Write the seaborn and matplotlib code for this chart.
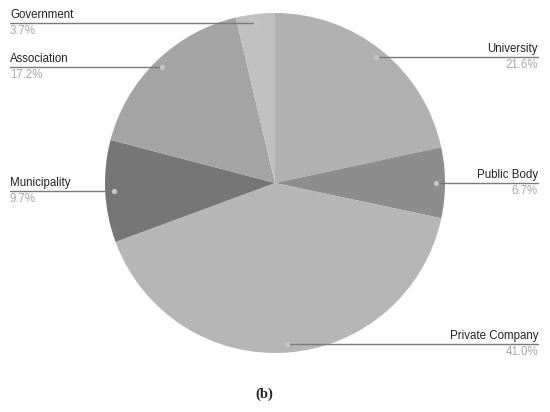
import numpy as np
import matplotlib.pyplot as plt
import seaborn as sns

sns.set_theme(style="white")
plt.rcParams['font.family'] = ['Liberation Sans', 'DejaVu Sans']

# Share of organisations by type (clockwise from 12 o'clock)
categories = ["University", "Public Body", "Private Company",
              "Municipality", "Association", "Government"]
shares = [21.6, 6.7, 41.0, 9.7, 17.2, 3.7]
pct_labels = ["21.6%", "6.7%", "41.0%", "9.7%", "17.2%", "3.7%"]
colors = ["#b1b1b1", "#8d8d8d", "#b6b6b6", "#767676", "#a4a4a4", "#c0c0c0"]

W, H = 550, 412
fig = plt.figure(figsize=(W / 100, H / 100), dpi=100)
ax = fig.add_axes([0, 0, 1, 1])

cx, cy, r = 275, H - 183, 170
wedges, _ = ax.pie(shares, colors=colors, startangle=90, counterclock=False,
                   center=(cx, cy), radius=r, frame=True,
                   wedgeprops=dict(linewidth=0))
ax.set_xlim(0, W)
ax.set_ylim(0, H)
ax.axis("off")

for w, name, pct in zip(wedges, categories, pct_labels):
    mid = np.deg2rad((w.theta1 + w.theta2) / 2)
    dx = cx + 0.95 * r * np.cos(mid)
    dy = cy + 0.95 * r * np.sin(mid)
    if np.cos(mid) > 0:
        tx, ha = 538, "right"
    else:
        tx, ha = 10, "left"
    ax.plot([dx, tx], [dy, dy], color="#7a7a7a", lw=1, zorder=3)
    ax.scatter([dx], [dy], s=8, color="#c4c4c4", zorder=4)
    ax.text(tx, dy + 2, name, ha=ha, va="bottom", fontsize=8.3, color="#222222")
    ax.text(tx, dy - 2, pct, ha=ha, va="top", fontsize=8.3, color="#a8a8a8")

fig.text(264 / W, 1 - 394 / H, "(b)", ha="center", va="center",
         fontsize=10.5, family="Liberation Serif", fontweight="bold")

fig.savefig("out.png", dpi=100)
